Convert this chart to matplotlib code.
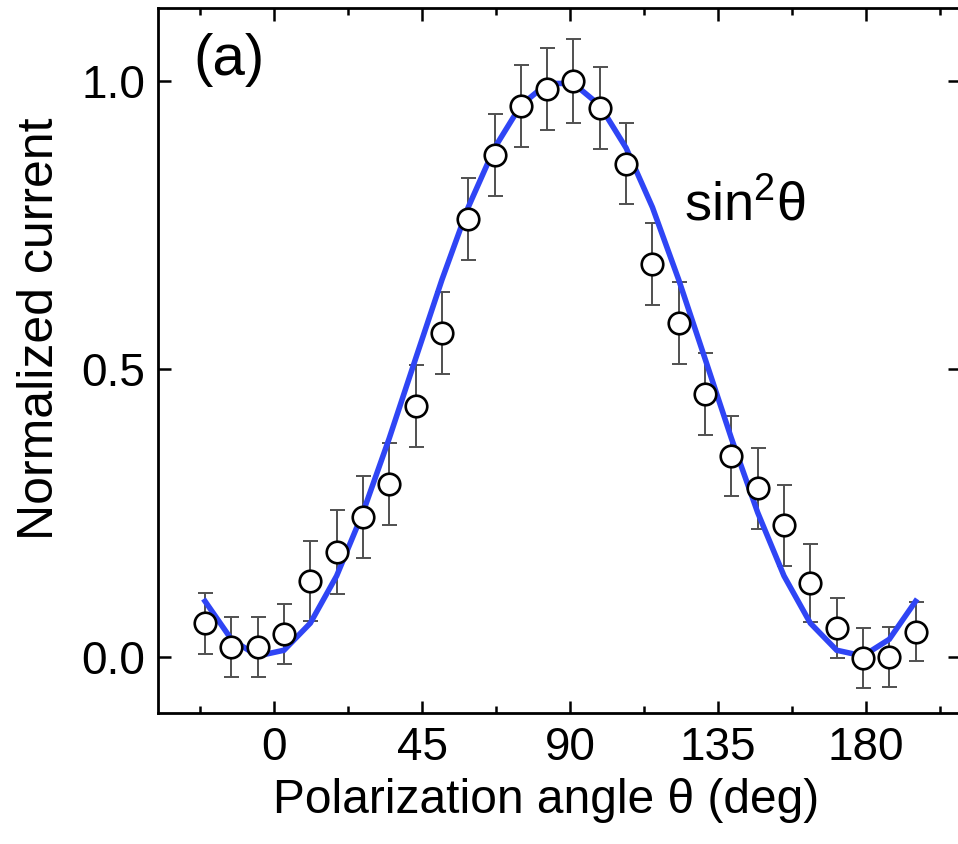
import matplotlib
matplotlib.use("Agg")
import matplotlib.pyplot as plt
import numpy as np

plt.rcParams['font.family'] = ['Liberation Sans', 'DejaVu Sans']
plt.rcParams['mathtext.fontset'] = 'custom'
plt.rcParams['mathtext.rm'] = 'Liberation Sans'
plt.rcParams['mathtext.it'] = 'Liberation Sans'

# Data
angle = [-21, -13, -5, 3, 11, 19, 27, 35, 43, 51, 59, 67, 75, 83, 91, 99, 107,
         115, 123, 131, 139, 147, 155, 163, 171, 179, 187, 195]
current = [0.058, 0.017, 0.016, 0.039, 0.131, 0.181, 0.242, 0.300, 0.435, 0.562,
           0.759, 0.871, 0.956, 0.985, 1.000, 0.952, 0.856, 0.681, 0.579, 0.456,
           0.348, 0.292, 0.228, 0.128, 0.049, -0.003, 0.000, 0.043]
error = [0.053, 0.052, 0.052, 0.052, 0.070, 0.073, 0.071, 0.071, 0.071, 0.071,
         0.071, 0.071, 0.071, 0.071, 0.073, 0.071, 0.071, 0.071, 0.071, 0.071,
         0.070, 0.070, 0.070, 0.068, 0.052, 0.052, 0.052, 0.051]
fit = [0.096, 0.030, 0.001, 0.011, 0.058, 0.140, 0.250, 0.379, 0.517, 0.654,
       0.780, 0.883, 0.957, 0.995, 0.995, 0.957, 0.883, 0.780, 0.654, 0.517,
       0.379, 0.250, 0.140, 0.058, 0.011, 0.001, 0.030, 0.096]
xticks = [0, 45, 90, 135, 180]
yticks = [0.0, 0.5, 1.0]

fig = plt.figure(figsize=(9.58, 8.44), dpi=100)
ax = fig.add_axes([158/958, 1-713/844, (960-158)/958, (713-8)/844])

ax.plot(angle, fit, color='#2f45f5', lw=4.0, zorder=3, solid_joinstyle='miter')
ax.errorbar(angle, current, yerr=error, fmt='none', ecolor='#505050',
            elinewidth=1.4, capsize=5.4, capthick=1.4, zorder=2)
ax.plot(angle, current, 'o', ms=15.5, mfc='white', mec='black', mew=1.9, zorder=4)

ax.set_xlim(-35.3, 208.5)
ax.set_ylim(-0.098, 1.126)
ax.set_xticks(xticks)
ax.set_xticklabels([str(v) for v in xticks])
ax.set_xticks([-22.5, 22.5, 67.5, 112.5, 157.5, 202.5], minor=True)
ax.set_yticks(yticks)
ax.set_yticklabels(['%.1f' % v for v in yticks])

for s in ax.spines.values():
    s.set_linewidth(2.0)
ax.tick_params(which='both', direction='in', top=True, right=True,
               labelsize=33, width=1.8)
ax.tick_params(which='major', length=9, pad=9)
ax.tick_params(which='minor', length=5)

ax.set_xlabel('Polarization angle θ (deg)', fontsize=34.5, labelpad=6)
ax.set_ylabel('Normalized current', fontsize=36, labelpad=14)
ax.xaxis.set_label_coords(0.484, -0.092)
ax.yaxis.set_label_coords(-0.118, 0.545)

ax.text(0.044, 0.905, '(a)', transform=ax.transAxes, fontsize=42, ha='left', va='baseline')
ax.text(0.656, 0.699, r'$\mathregular{sin^2θ}$', transform=ax.transAxes, fontsize=39,
        ha='left', va='baseline')

fig.savefig('out.png', dpi=100)
